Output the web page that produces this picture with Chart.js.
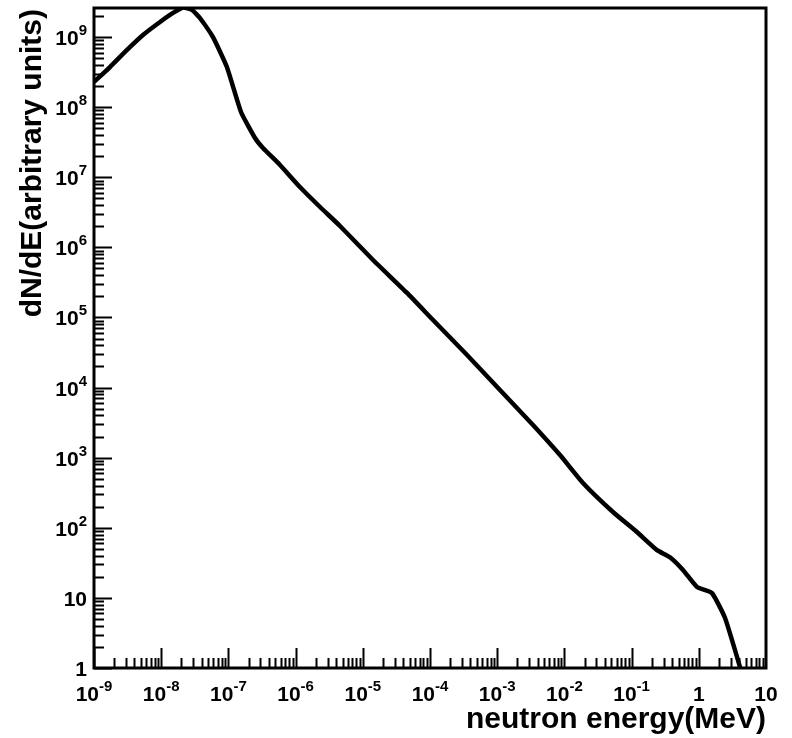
<!DOCTYPE html>
<html>
<head>
<meta charset="utf-8">
<script src="https://cdn.jsdelivr.net/npm/chart.js@4/dist/chart.umd.min.js"></script>
<style>
  html, body { margin: 0; padding: 0; background: #fff; }
  #wrap { width: 792px; height: 738px; }
</style>
</head>
<body>
<div id="wrap"><canvas id="spectrum"></canvas></div>
<script>
// --- Données (énergie en MeV, dN/dE en unités arbitraires) ---
const energy = [
  1e-9, 1.73e-9, 3.10e-9, 5.36e-9, 9.6e-9, 1.50e-8, 2.11e-8, 2.87e-8, 3.78e-8,
  5.9e-8, 9.5e-8, 1.54e-7, 2.49e-7, 3.27e-7, 5.86e-7, 1.16e-6, 2.31e-6, 4.58e-6,
  1.42e-5, 4.55e-5, 1.11e-4, 3.56e-4, 1.10e-3, 3.41e-3, 8.61e-3, 1.89e-2,
  5.28e-2, 0.120, 0.239, 0.372, 0.582, 0.94, 1.57, 2.45, 4.10, 5.04
];
const dNdE = [
  2.29e8, 3.74e8, 6.55e8, 1.07e9, 1.64e9, 2.21e9, 2.65e9, 2.44e9, 1.87e9,
  1.0e9, 3.74e8, 8.55e7, 3.64e7, 2.62e7, 1.50e7, 7.27e6, 3.77e6, 2.02e6,
  6.61e5, 2.24e5, 9.2e4, 2.92e4, 9.25e3, 2.93e3, 1.09e3, 436,
  168, 87, 48, 38, 25, 14.3, 11.7, 5.2, 1.03, 0.49
];

// Graduations principales
const xTicks = [1e-9, 1e-8, 1e-7, 1e-6, 1e-5, 1e-4, 1e-3, 1e-2, 1e-1, 1, 10];
const xTickLabels = ['10^-9', '10^-8', '10^-7', '10^-6', '10^-5', '10^-4', '10^-3', '10^-2', '10^-1', '1', '10'];
const yTicks = [1, 10, 1e2, 1e3, 1e4, 1e5, 1e6, 1e7, 1e8, 1e9];
const yTickLabels = ['1', '10', '10^2', '10^3', '10^4', '10^5', '10^6', '10^7', '10^8', '10^9'];

const X_TITLE = 'neutron energy(MeV)';
const Y_TITLE = 'dN/dE(arbitrary units)';

const X_MIN = 1e-9, X_MAX = 10;
const Y_MIN = 1, Y_MAX = Math.pow(10, 9.415);

const FAMILY    = '"Liberation Sans", Arial, Helvetica, sans-serif';
const BASE_FONT = 'bold 21px ' + FAMILY;
const EXP_FONT  = 'bold 15px ' + FAMILY;
const TITLE_FONT = 'bold 30px ' + FAMILY;

// -------------------------------------------------------
// Étiquette de type 10^n avec exposant
// -------------------------------------------------------
function drawPow(ctx, label, x, yBase, align) {
  const [b, e] = label.split('^');
  ctx.font = BASE_FONT;
  const wb = ctx.measureText(b).width;
  ctx.font = EXP_FONT;
  const we = e ? ctx.measureText(e).width : 0;
  const w = wb + we;
  const x0 = align === 'right' ? x - w : x - w / 2;
  ctx.textAlign = 'left';
  ctx.font = BASE_FONT;
  ctx.fillText(b, x0, yBase);
  if (e) {
    ctx.font = EXP_FONT;
    ctx.fillText(e, x0 + wb, yBase - 10);
  }
}

// -------------------------------------------------------
// Cadre, graduations vers l'intérieur et titres (style ROOT)
// -------------------------------------------------------
const rootFrame = {
  id: 'rootFrame',
  afterDatasetsDraw(chart) {
    const { ctx, chartArea: a, scales: { x, y } } = chart;
    ctx.save();
    ctx.strokeStyle = '#000';
    ctx.lineWidth = 2;
    ctx.beginPath();
    // axe X
    for (let k = -9; k <= 0; k++) {
      for (let m = 1; m <= 9; m++) {
        const v = m * Math.pow(10, k);
        const px = Math.round(x.getPixelForValue(v)) + 0.5;
        const len = m === 1 ? 20 : 10;
        ctx.moveTo(px, a.bottom);
        ctx.lineTo(px, a.bottom - len);
      }
    }
    // axe Y
    for (let k = 0; k <= 9; k++) {
      for (let m = 1; m <= 9; m++) {
        const v = m * Math.pow(10, k);
        if (v > Y_MAX) break;
        const py = Math.round(y.getPixelForValue(v)) + 0.5;
        const len = m === 1 ? 18 : 10;
        ctx.moveTo(a.left, py);
        ctx.lineTo(a.left + len, py);
      }
    }
    ctx.stroke();
    ctx.lineWidth = 3;
    ctx.strokeRect(a.left, a.top, a.right - a.left, a.bottom - a.top);
    ctx.restore();
  },
  afterDraw(chart) {
    const { ctx, chartArea: a, scales: { x, y } } = chart;
    ctx.save();
    ctx.fillStyle = '#000';
    ctx.textBaseline = 'alphabetic';
    xTicks.forEach((v, i) => drawPow(ctx, xTickLabels[i], x.getPixelForValue(v), a.bottom + 33, 'center'));
    yTicks.forEach((v, i) => drawPow(ctx, yTickLabels[i], 87, y.getPixelForValue(v) + 8, 'right'));

    ctx.font = TITLE_FONT;
    ctx.textAlign = 'right';
    ctx.fillText(X_TITLE, a.right, 728);

    ctx.translate(41, a.top + 1);
    ctx.rotate(-Math.PI / 2);
    ctx.fillText(Y_TITLE, 0, 0);
    ctx.restore();
  }
};

new Chart(document.getElementById('spectrum'), {
  type: 'line',
  data: {
    datasets: [{
      data: energy.map((e, i) => ({ x: e, y: dNdE[i] })),
      borderColor: '#000',
      borderWidth: 4.5,
      pointRadius: 0,
      tension: 0.15,
      fill: false,
    }],
  },
  options: {
    responsive: true,
    maintainAspectRatio: false,
    animation: false,
    layout: { padding: { top: 8, right: 26, left: 0, bottom: 0 } },
    plugins: { legend: { display: false }, tooltip: { enabled: false } },
    scales: {
      x: {
        type: 'logarithmic', min: X_MIN, max: X_MAX,
        grid: { display: false }, border: { display: false },
        ticks: { display: false },
        afterFit: s => { s.height = 70; },
      },
      y: {
        type: 'logarithmic', min: Y_MIN, max: Y_MAX,
        grid: { display: false }, border: { display: false },
        ticks: { display: false },
        afterFit: s => { s.width = 94; },
      },
    },
  },
  plugins: [rootFrame],
});
</script>
</body>
</html>
